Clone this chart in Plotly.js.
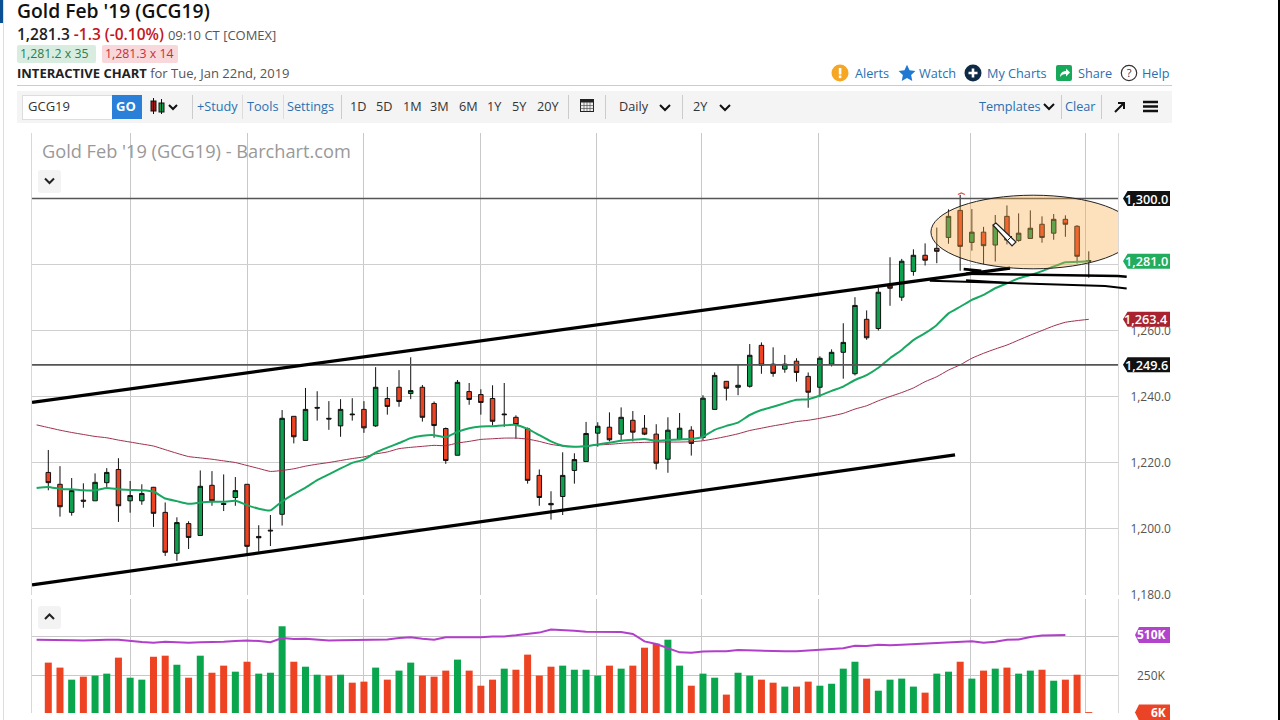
<!DOCTYPE html>
<html><head><meta charset="utf-8">
<script src="https://cdn.plot.ly/plotly-3.0.1.min.js"></script>
<style>
html,body{margin:0;padding:0;background:#fff;overflow:hidden}
body{width:1280px;height:720px;position:relative;font-family:"Open Sans",sans-serif;color:#222}
#chart{position:absolute;left:0;top:0;width:1280px;height:720px}
.t{position:absolute;white-space:nowrap;line-height:18px;height:18px;z-index:3}
.b{position:absolute;z-index:2}
.lnk{color:#2a70b0;font-size:12.7px}
.gr{color:#333;font-size:12.7px}
svg.i{position:absolute;z-index:3}
</style></head><body>
<div id="chart"></div>
<div class="b" style="left:0;top:0;width:3px;height:23px;background:#0b4f94"></div>
<div class="b" style="left:3px;top:0;width:1px;height:720px;background:#ddd"></div>
<div class="b" style="left:1278px;top:0;width:2px;height:720px;background:#000"></div>
<div class="t" style="left:17px;top:0px;height:22px;line-height:21px;font-size:19.3px;font-weight:600;color:#111">Gold Feb '19 (GCG19)</div>
<div class="t" style="left:17px;top:25px;font-size:15.5px;font-weight:600;color:#222">1,281.3 <span style="color:#c4161c">-1.3 (-0.10%)</span> <span style="font-size:13px;font-weight:400;color:#555">09:10 CT [COMEX]</span></div>
<div class="b" style="left:17px;top:45px;width:79px;height:18px;background:#d8eddf;border-radius:2px"></div>
<div class="b" style="left:102px;top:45px;width:76px;height:18px;background:#f8d8da;border-radius:2px"></div>
<div class="t" style="left:20px;top:45px;font-size:12.3px;color:#2a7d4f">1,281.2 x 35</div>
<div class="t" style="left:105px;top:45px;font-size:12.3px;color:#c4303a">1,281.3 x 14</div>
<div class="t" style="left:17px;top:64px;font-size:13px;color:#555"><b style="color:#222;font-weight:700">INTERACTIVE CHART</b> for Tue, Jan 22nd, 2019</div>
<div class="b" style="left:17px;top:85px;width:1155px;height:1px;background:#ccc"></div>
<div class="b" style="left:17px;top:91px;width:1155px;height:32px;background:#f4f4f4"></div>
<div class="b" style="left:22px;top:95px;width:90px;height:23px;background:#fff;border:1px solid #ddd"></div>
<div class="t gr" style="left:28px;top:97px;font-size:13px">GCG19</div>
<div class="b" style="left:112px;top:95px;width:30px;height:24px;background:#2a7fd9"></div>
<div class="t" style="left:116px;top:97px;font-size:13px;font-weight:700;color:#fff">GO</div>
<svg class="i" style="left:148px;top:97px" width="34" height="18" viewBox="0 0 34 18">
<rect x="3" y="4" width="5" height="10" fill="#a01818" stroke="#111"/><line x1="5.5" y1="1" x2="5.5" y2="17" stroke="#111"/>
<rect x="11" y="6" width="5" height="9" fill="#1a9a4c" stroke="#111"/><line x1="13.5" y1="2" x2="13.5" y2="17" stroke="#111"/>
<path d="M21 8l4 4 4-4" fill="none" stroke="#111" stroke-width="2"/></svg>
<div class="b" style="left:192px;top:95px;width:1px;height:24px;background:#ccc"></div>
<div class="t lnk" style="left:197px;top:97px">+Study</div>
<div class="b" style="left:242px;top:95px;width:1px;height:24px;background:#ddd"></div>
<div class="t lnk" style="left:247px;top:97px">Tools</div>
<div class="b" style="left:283px;top:95px;width:1px;height:24px;background:#ddd"></div>
<div class="t lnk" style="left:287px;top:97px">Settings</div>
<div class="b" style="left:341px;top:95px;width:1px;height:24px;background:#ccc"></div>
<div class="t gr" style="left:350px;top:97px">1D</div>
<div class="t gr" style="left:376px;top:97px">5D</div>
<div class="t gr" style="left:403px;top:97px">1M</div>
<div class="t gr" style="left:430px;top:97px">3M</div>
<div class="t gr" style="left:459px;top:97px">6M</div>
<div class="t gr" style="left:487px;top:97px">1Y</div>
<div class="t gr" style="left:512px;top:97px">5Y</div>
<div class="t gr" style="left:537px;top:97px">20Y</div>
<div class="b" style="left:568px;top:95px;width:1px;height:24px;background:#ccc"></div>
<svg class="i" style="left:579px;top:97px" width="16" height="16" viewBox="0 0 16 16"><rect x="1.5" y="2.5" width="13" height="12" fill="#eee" stroke="#222"/><rect x="1.5" y="2.5" width="13" height="3" fill="#222"/><path d="M1.5 8.5h13M1.5 11.5h13M5 5v9M8 5v9M11 5v9" stroke="#555" stroke-width=".7"/></svg>
<div class="b" style="left:605px;top:95px;width:1px;height:24px;background:#ccc"></div>
<div class="t gr" style="left:619px;top:97px">Daily</div>
<svg class="i" style="left:659px;top:103px" width="12" height="9"><path d="M1 2l5 5 5-5" fill="none" stroke="#111" stroke-width="2"/></svg>
<div class="b" style="left:682px;top:95px;width:1px;height:24px;background:#ccc"></div>
<div class="t gr" style="left:693px;top:97px">2Y</div>
<svg class="i" style="left:719px;top:103px" width="12" height="9"><path d="M1 2l5 5 5-5" fill="none" stroke="#111" stroke-width="2"/></svg>
<div class="t lnk" style="left:979px;top:97px">Templates</div>
<svg class="i" style="left:1043px;top:102px" width="12" height="9"><path d="M1 2l5 5 5-5" fill="none" stroke="#111" stroke-width="2"/></svg>
<div class="b" style="left:1061px;top:95px;width:1px;height:24px;background:#ccc"></div>
<div class="t lnk" style="left:1065px;top:97px">Clear</div>
<div class="b" style="left:1101px;top:95px;width:1px;height:24px;background:#ccc"></div>
<svg class="i" style="left:1113px;top:100px" width="14" height="14"><path d="M2 12L11 3M5 3h6v6" fill="none" stroke="#111" stroke-width="2"/></svg>
<svg class="i" style="left:1143px;top:100px" width="16" height="13"><path d="M0 2h15M0 6.5h15M0 11h15" stroke="#111" stroke-width="2.4"/></svg>
<svg class="i" style="left:831px;top:64px" width="18" height="18"><circle cx="9" cy="9" r="8.5" fill="#f5a623"/><rect x="7.8" y="4" width="2.6" height="6.5" fill="#fff"/><rect x="7.8" y="11.5" width="2.6" height="2.6" fill="#fff"/></svg>
<div class="t lnk" style="left:855px;top:64px">Alerts</div>
<svg class="i" style="left:898px;top:64px" width="18" height="18" viewBox="0 0 24 24"><path d="M12 1l3.4 7.3 7.8 1-5.7 5.4 1.5 7.9L12 18.700 5 22.600l1.500-7.900L.8 9.300l7.800-1z" fill="#1f78d1"/></svg>
<div class="t lnk" style="left:919px;top:64px">Watch</div>
<svg class="i" style="left:964px;top:64px" width="18" height="18"><circle cx="9" cy="9" r="8.5" fill="#0e2a47"/><path d="M9 4.500v9M4.500 9h9" stroke="#fff" stroke-width="2.600"/></svg>
<div class="t lnk" style="left:987px;top:64px">My Charts</div>
<svg class="i" style="left:1056px;top:65px" width="16" height="16"><rect width="16" height="16" rx="2" fill="#17a85a"/><path d="M4 12c0-4 3-6 6-6V3.500L14 7.500l-4 4V9c-3 0-4.500 1-6 3z" fill="#fff"/></svg>
<div class="t lnk" style="left:1078px;top:64px">Share</div>
<svg class="i" style="left:1120px;top:64px" width="18" height="18"><circle cx="9" cy="9" r="7.700" fill="#fff" stroke="#333" stroke-width="1.200"/><text x="9" y="13" font-size="11" font-family="Open Sans" text-anchor="middle" fill="#333">?</text></svg>
<div class="t lnk" style="left:1142px;top:64px">Help</div>
<div class="b" style="left:38px;top:170px;width:23px;height:23px;background:#f3f3f3;border-radius:3px"></div>
<svg class="i" style="left:44px;top:177px" width="11" height="8"><path d="M1 1.500l4.500 4.500 4.500-4.500" fill="none" stroke="#222" stroke-width="2"/></svg>
<div class="b" style="left:38px;top:606px;width:23px;height:23px;background:#f3f3f3;border-radius:3px"></div>
<svg class="i" style="left:44px;top:613px" width="11" height="8"><path d="M1 6l4.500-4.500 4.500 4.500" fill="none" stroke="#222" stroke-width="2"/></svg>
<svg class="i" style="left:990px;top:220px" width="28" height="28"><path d="M3 5l3-2 20 19-4 4z" fill="#fff" stroke="#222" stroke-width="1.200"/><path d="M18 20l4-4" stroke="#222"/></svg>
<script>
// ---- Candles (index 0 = oldest session) ----
const high = [1223.8,1218.9,1215.3,1213.7,1216.7,1218.3,1221.3,1214.4,1213.4,1212.6,
 1207.9,1203.4,1202.2,1217.6,1217.4,1216.4,1215.6,1213.4,1201.0,1204.1,
 1235.9,1234.0,1242.6,1241.6,1238.6,1239.2,1239.5,1238.6,1248.9,1242.9,
 1248.0,1251.9,1243.5,1238.5,1230.6,1245.0,1244.1,1242.2,1243.4,1244.1,
 1234.3,1230.6,1217.9,1211.3,1223.1,1222.8,1232.3,1232.2,1235.2,1236.7,
 1235.6,1234.4,1231.6,1233.7,1235.0,1231.0,1240.4,1247.3,1244.6,1249.8,
 1255.9,1256.4,1254.9,1252.6,1251.6,1247.3,1252.2,1254.3,1262.2,1270.1,
 1266.1,1273.0,1282.2,1281.7,1284.6,1286.4,1291.2,1296.7,1301.1,1296.8,
 1291.4,1295.0,1297.9,1295.5,1296.4,1294.6,1295.3,1294.9,1291.9,1284.0];
const bodyTop = [1217.0,1213.4,1211.5,1208.6,1214.0,1217.0,1217.9,1210.0,1210.6,1212.5,
 1204.9,1201.8,1201.5,1212.8,1213.1,1207.6,1211.5,1213.4,1197.6,1199.5,
 1233.4,1234.0,1236.1,1236.7,1233.4,1236.1,1234.7,1236.1,1242.8,1239.4,
 1242.8,1241.8,1242.8,1237.9,1230.3,1244.3,1241.5,1240.6,1239.4,1234.7,
 1233.7,1230.2,1216.1,1207.6,1216.1,1220.9,1228.8,1231.0,1230.7,1233.7,
 1232.8,1230.4,1228.6,1229.8,1230.4,1229.8,1239.5,1246.4,1244.6,1243.4,
 1252.5,1255.5,1249.8,1249.8,1250.7,1246.1,1251.6,1253.4,1256.4,1267.6,
 1263.4,1271.6,1273.5,1281.0,1282.8,1282.8,1284.9,1294.6,1296.4,1289.8,
 1289.8,1291.9,1294.6,1289.5,1291.0,1292.2,1293.7,1293.7,1291.6,1281.2];
const bodyBottom = [1213.9,1206.6,1204.9,1208.3,1208.4,1213.9,1206.9,1208.4,1208.4,1204.6,
 1192.8,1192.5,1197.3,1197.9,1208.4,1207.3,1209.4,1194.6,1197.2,1199.3,
 1204.3,1227.8,1226.7,1236.5,1233.2,1231.1,1234.5,1230.5,1231.1,1237.0,
 1238.5,1240.9,1233.7,1231.2,1220.6,1222.2,1239.1,1238.2,1232.5,1234.5,
 1231.5,1214.6,1209.4,1207.2,1209.7,1217.6,1220.3,1228.9,1226.9,1228.6,
 1229.2,1228.6,1219.8,1221.0,1227.0,1225.8,1227.6,1236.1,1242.5,1242.8,
 1243.1,1249.5,1247.0,1248.3,1247.3,1241.3,1242.8,1249.8,1253.4,1246.9,
 1257.8,1260.6,1272.8,1270.1,1277.9,1281.3,1284.0,1288.2,1285.5,1286.7,
 1285.7,1285.9,1287.4,1287.3,1287.9,1288.2,1289.5,1292.2,1282.5,1281.0];
const low = [1211.6,1203.6,1203.9,1206.3,1208.4,1212.6,1202.0,1204.8,1207.2,1200.5,
 1191.7,1190.2,1193.8,1197.9,1206.9,1205.3,1206.9,1192.5,1193.0,1194.7,
 1200.9,1225.8,1226.7,1232.7,1229.9,1227.8,1232.7,1229.0,1230.8,1234.5,
 1236.9,1239.2,1232.4,1227.5,1219.6,1222.2,1237.5,1234.5,1231.2,1230.8,
 1227.2,1213.6,1206.9,1202.7,1204.1,1213.6,1220.3,1224.8,1226.4,1226.8,
 1226.4,1228.3,1217.9,1216.9,1226.8,1222.1,1226.8,1236.1,1238.8,1240.4,
 1242.7,1246.9,1246.0,1247.2,1244.5,1236.6,1239.8,1249.1,1245.4,1246.4,
 1257.2,1260.0,1267.5,1269.0,1276.6,1279.7,1280.4,1286.3,1278.1,1284.2,
 1280.1,1280.9,1286.1,1286.9,1287.9,1286.6,1287.5,1288.4,1280.3,1276.0];
const upDay = [0,0,1,0,1,1,0,1,1,0,0,1,0,1,0,0,1,0,0,0,
 1,0,1,0,0,1,0,0,1,0,0,1,0,0,0,1,0,0,0,0,
 0,0,0,0,1,1,1,1,0,1,0,0,0,1,1,0,1,1,0,1,
 1,0,0,1,0,0,1,1,1,1,0,1,0,1,1,0,0,1,0,1,
 0,1,0,1,1,0,1,0,0,0];
// ---- Moving averages (start one session before the first candle) ----
const maFast = [1212.3,1212.6,1212.0,1211.9,1211.6,1211.6,1212.3,1211.9,1211.7,1211.6,1211.2,
 1209.1,1208.3,1207.5,1207.9,1208.1,1208.1,1208.4,1207.1,1206.0,1205.5,
 1208.2,1210.4,1212.4,1214.7,1216.4,1218.2,1219.9,1220.9,1223.0,1224.5,
 1225.9,1227.4,1228.1,1228.3,1227.7,1229.3,1230.4,1230.9,1231.0,1231.3,
 1231.4,1230.2,1228.3,1226.4,1225.1,1224.8,1224.9,1225.5,1226.0,1226.6,
 1226.9,1227.1,1226.6,1226.8,1227.0,1227.1,1227.8,1229.9,1231.1,1232.1,
 1234.4,1235.9,1236.9,1238.0,1239.0,1239.2,1240.3,1241.7,1243.0,1245.0,
 1246.5,1248.7,1251.6,1254.1,1257.1,1259.2,1261.7,1265.2,1267.2,1269.3,
 1270.8,1272.8,1274.3,1275.8,1276.8,1278.0,1279.4,1280.7,1280.8,1281.1];
const maSlow = [1231.4,1230.6,1229.8,1229.1,1228.5,1227.9,1227.5,1226.8,1226.2,1225.6,1225.0,
 1223.9,1222.8,1221.8,1221.4,1221.0,1220.5,1220.0,1219.1,1218.2,1217.3,
 1217.6,1218.1,1218.9,1219.5,1220.0,1220.6,1221.2,1221.7,1222.6,1223.2,
 1224.2,1224.6,1224.9,1225.2,1225.1,1225.9,1226.4,1227.0,1227.2,1227.4,
 1227.4,1227.1,1226.4,1225.5,1225.0,1224.8,1225.0,1225.3,1225.5,1225.8,
 1226.0,1226.1,1226.2,1226.2,1226.2,1226.3,1226.6,1227.2,1227.9,1228.7,
 1229.7,1230.4,1231.1,1231.7,1232.4,1232.8,1233.4,1234.1,1234.9,1236.2,
 1237.2,1238.7,1240.0,1241.2,1242.6,1244.5,1246.0,1248.0,1249.6,1251.6,
 1253.1,1254.4,1255.6,1257.1,1258.6,1260.0,1261.4,1262.5,1263.0,1263.4];
// ---- Volume pane, thousands of contracts ----
const volume = [334,301,221,241,248,261,367,234,221,373,380,320,234,380,267,314,274,340,261,267,
 575,340,307,254,248,254,201,208,301,221,281,334,248,241,281,354,281,181,221,294,
 287,387,248,307,314,287,287,248,314,294,314,433,460,486,314,181,261,234,122,267,
 248,221,201,175,175,208,181,194,294,340,228,148,221,228,175,135,261,274,340,228,
 281,294,301,261,281,287,214,221,254,6];
const volumeUp = [0,0,1,0,1,1,0,1,1,0,0,1,0,1,0,0,1,0,1,1,
 1,0,1,1,0,1,0,0,1,0,1,1,0,0,0,1,0,0,0,1,
 0,0,0,0,1,1,1,1,0,1,0,0,0,1,1,0,1,1,0,1,
 1,0,0,1,0,0,1,1,1,1,0,1,1,1,1,0,1,1,0,1,
 0,1,0,1,1,0,1,0,0,0];
// open interest, starts one session before the first candle
const openInterest = [486,486,484,482,480,484,486,486,477,471,466,473,469,466,469,469,473,477,480,477,469,
 497,491,493,486,480,482,484,484,486,488,497,502,493,486,502,502,502,502,508,508,
 515,522,533,553,550,546,539,539,541,537,524,475,457,431,402,400,407,409,409,418,
 415,413,413,409,409,415,420,424,429,446,444,453,449,453,457,462,462,466,469,475,
 466,473,486,488,504,513,515,517];
// ---- Axis ticks and levels ----
const priceTicks = [1180,1200,1220,1240,1260,1280,1300];
const priceTickText = ['1,180.0','1,200.0','1,220.0','1,240.0','1,260.0','',''];
const sessionGrid = [6.99,17.0,26.92,36.93,46.93,55.9,65.9,78.9,88.7];
const volumeTicks = [0,250,510];
const levelUpper = 1300, levelLower = 1249.6;
// ---- Hand-drawn annotations, in session / price units ----
const upperTrendX = [-1.39,82.27], upperTrendY = [1238.2,1278.9];
const lowerTrendX = [-1.39,77.56], lowerTrendY = [1182.9,1222.3];
const scribbleAX = [75.4,90.4,91.5], scribbleAY = [1275.1,1273.5,1273.0];
const scribbleBX = [78.3,79.8,78.5,85.3,91.5], scribbleBY = [1278.6,1278.1,1277.2,1276.9,1276.5];
const scribbleCX = [78.5,80.8,82.3], scribbleCY = [1275.2,1274.6,1274.4];
const highMarkX = [77.8,78.1,78.4], highMarkY = [1301.2,1301.7,1301.2];
const ellipseX = [75.5,93.0], ellipseY = [1278.7,1301.0];

const X = high.map((_,i)=>i);
const XMA = maFast.map((_,i)=>i-1);
const XOI = openInterest.map((_,i)=>i-1);
const RED='#ee4323', GREEN='#0ea04f';
const open = upDay.map((u,i)=>u?bodyBottom[i]:bodyTop[i]);
const close = upDay.map((u,i)=>u?bodyTop[i]:bodyBottom[i]);
const blackLine=(x,y,w)=>({type:'scatter',mode:'lines',x,y,line:{color:'#000',width:w},hoverinfo:'skip',xaxis:'x',yaxis:'y'});

const traces=[
 {type:'candlestick',x:X,open,high,low,close,xaxis:'x',yaxis:'y',whiskerwidth:0,
  increasing:{line:{color:'#111',width:1},fillcolor:GREEN},
  decreasing:{line:{color:'#111',width:1},fillcolor:RED}},
 {type:'scatter',mode:'lines',x:XMA,y:maSlow,line:{color:'#a0304e',width:1,shape:'spline',smoothing:.5},xaxis:'x',yaxis:'y'},
 {type:'scatter',mode:'lines',x:XMA,y:maFast,line:{color:'#19a861',width:2,shape:'spline',smoothing:.4},xaxis:'x',yaxis:'y'},
 {type:'scatter',mode:'lines',x:[-1.39,91.5],y:[levelUpper,levelUpper],line:{color:'#555',width:1.6},xaxis:'x',yaxis:'y'},
 {type:'scatter',mode:'lines',x:[-1.39,91.5],y:[levelLower,levelLower],line:{color:'#555',width:1.6},xaxis:'x',yaxis:'y'},
 blackLine(upperTrendX,upperTrendY,3.2),
 blackLine(lowerTrendX,lowerTrendY,3.2),
 blackLine(scribbleAX,scribbleAY,2),
 blackLine(scribbleBX,scribbleBY,2.6),
 blackLine(scribbleCX,scribbleCY,2),
 {type:'scatter',mode:'lines',x:highMarkX,y:highMarkY,line:{color:'#e05040',width:1.2},xaxis:'x',yaxis:'y'},
 {type:'bar',x:X,y:volume,width:0.6,marker:{color:volumeUp.map(u=>u?'#0aa64e':RED),line:{width:0}},xaxis:'x',yaxis:'y2'},
 {type:'scatter',mode:'lines',x:XOI,y:openInterest,line:{color:'#b23fc9',width:2},xaxis:'x',yaxis:'y2'}
];

const pill=(yref,y,fill)=>({type:'path',layer:'above',xref:'paper',yref,xsizemode:'pixel',ysizemode:'pixel',xanchor:1,yanchor:y,
 path:'M5,0 L9.5,-7.5 L52,-7.5 L52,7.5 L9.5,7.5 Z',fillcolor:fill,line:{width:0}});
const pillTxt=(yref,y,text)=>({xref:'paper',yref,x:1.0258,y,text,showarrow:false,xanchor:'center',yanchor:'middle',font:{family:'Open Sans',size:12.7,weight:600,color:'#fff'}});
const shortPill=(y,fill)=>({type:'path',layer:'above',xref:'paper',yref:'paper',xsizemode:'pixel',ysizemode:'pixel',xanchor:1,yanchor:y,
 path:'M17,0 L21,-8 L52,-8 L52,8 L21,8 Z',fillcolor:fill,line:{width:0}});
const shortTxt=(y,text)=>({xref:'paper',yref:'paper',x:1.0460,y,text,showarrow:false,xanchor:'right',yanchor:'middle',font:{family:'Open Sans',size:12,weight:700,color:'#fff'}});
const scribbleEnd=(y0,y1,w)=>({type:'line',layer:'above',xref:'paper',yref:'y',x0:1,x1:1.008,y0,y1,line:{color:'#000',width:w}});

const layout={
 width:1280,height:720,paper_bgcolor:'rgba(0,0,0,0)',plot_bgcolor:'#fff',showlegend:false,hovermode:false,
 margin:{l:32,r:162,t:133,b:7,pad:0},
 boxmode:'overlay',boxgap:0.45,
 title:{text:"Gold Feb '19 (GCG19) - Barchart.com",font:{family:'Open Sans',size:18.2,color:'#999'},x:0.0092,xref:'paper',xanchor:'left',y:0.9672,yref:'paper',yanchor:'middle'},
 xaxis:{type:'linear',range:[-1.394,91.5],anchor:'y2',domain:[0,1],tickvals:sessionGrid,ticktext:sessionGrid.map(()=>''),showgrid:true,gridcolor:'#c8c8c8',gridwidth:1,zeroline:false,rangeslider:{visible:false},ticks:'',showline:false,fixedrange:true},
 yaxis:{domain:[0.2034,1],range:[1179.85,1319.85],side:'right',anchor:'x',tickvals:priceTicks,ticktext:priceTickText,showgrid:true,gridcolor:'#cfcfcf',zeroline:false,ticks:'outside',ticklen:9,tickcolor:'rgba(0,0,0,0)',tickfont:{family:'Open Sans',size:12,color:'#555'},showline:true,linecolor:'#d8d8d8',mirror:true,fixedrange:true},
 yaxis2:{domain:[0,0.1966],range:[0,756],side:'right',anchor:'x',tickvals:volumeTicks,ticktext:['','',''],showgrid:true,gridcolor:'#c8c8c8',zeroline:false,ticks:'',showline:true,linecolor:'#d8d8d8',mirror:true,fixedrange:true},
 shapes:[
  {type:'circle',layer:'above',xref:'x',yref:'y',x0:ellipseX[0],x1:ellipseX[1],y0:ellipseY[0],y1:ellipseY[1],fillcolor:'rgba(246,172,70,0.36)',line:{color:'#222',width:1}},
  scribbleEnd(1273.0,1272.7,2),scribbleEnd(1276.5,1276.3,2.6),
  pill('y',levelUpper,'#111'),pill('y',1281.0,'#22ad5e'),pill('y',1263.4,'#a8232f'),pill('y',levelLower,'#111'),
  shortPill(0.1345,'#b244cb'),shortPill(0.0009,'#ea4326')
 ],
 annotations:[
  pillTxt('y',levelUpper,'1,300.0'),pillTxt('y',1281.0,'1,281.0'),pillTxt('y',1263.4,'1,263.4'),pillTxt('y',levelLower,'1,249.6'),
  shortTxt(0.1345,'510K'),shortTxt(0.0009,'6K'),
  {xref:'paper',yref:'y2',x:1.0460,y:250,text:'250K',showarrow:false,xanchor:'right',yanchor:'middle',font:{family:'Open Sans',size:12,color:'#555'}}
 ]
};
Plotly.newPlot('chart',traces,layout,{displayModeBar:false,staticPlot:true});
</script>
</body></html>
